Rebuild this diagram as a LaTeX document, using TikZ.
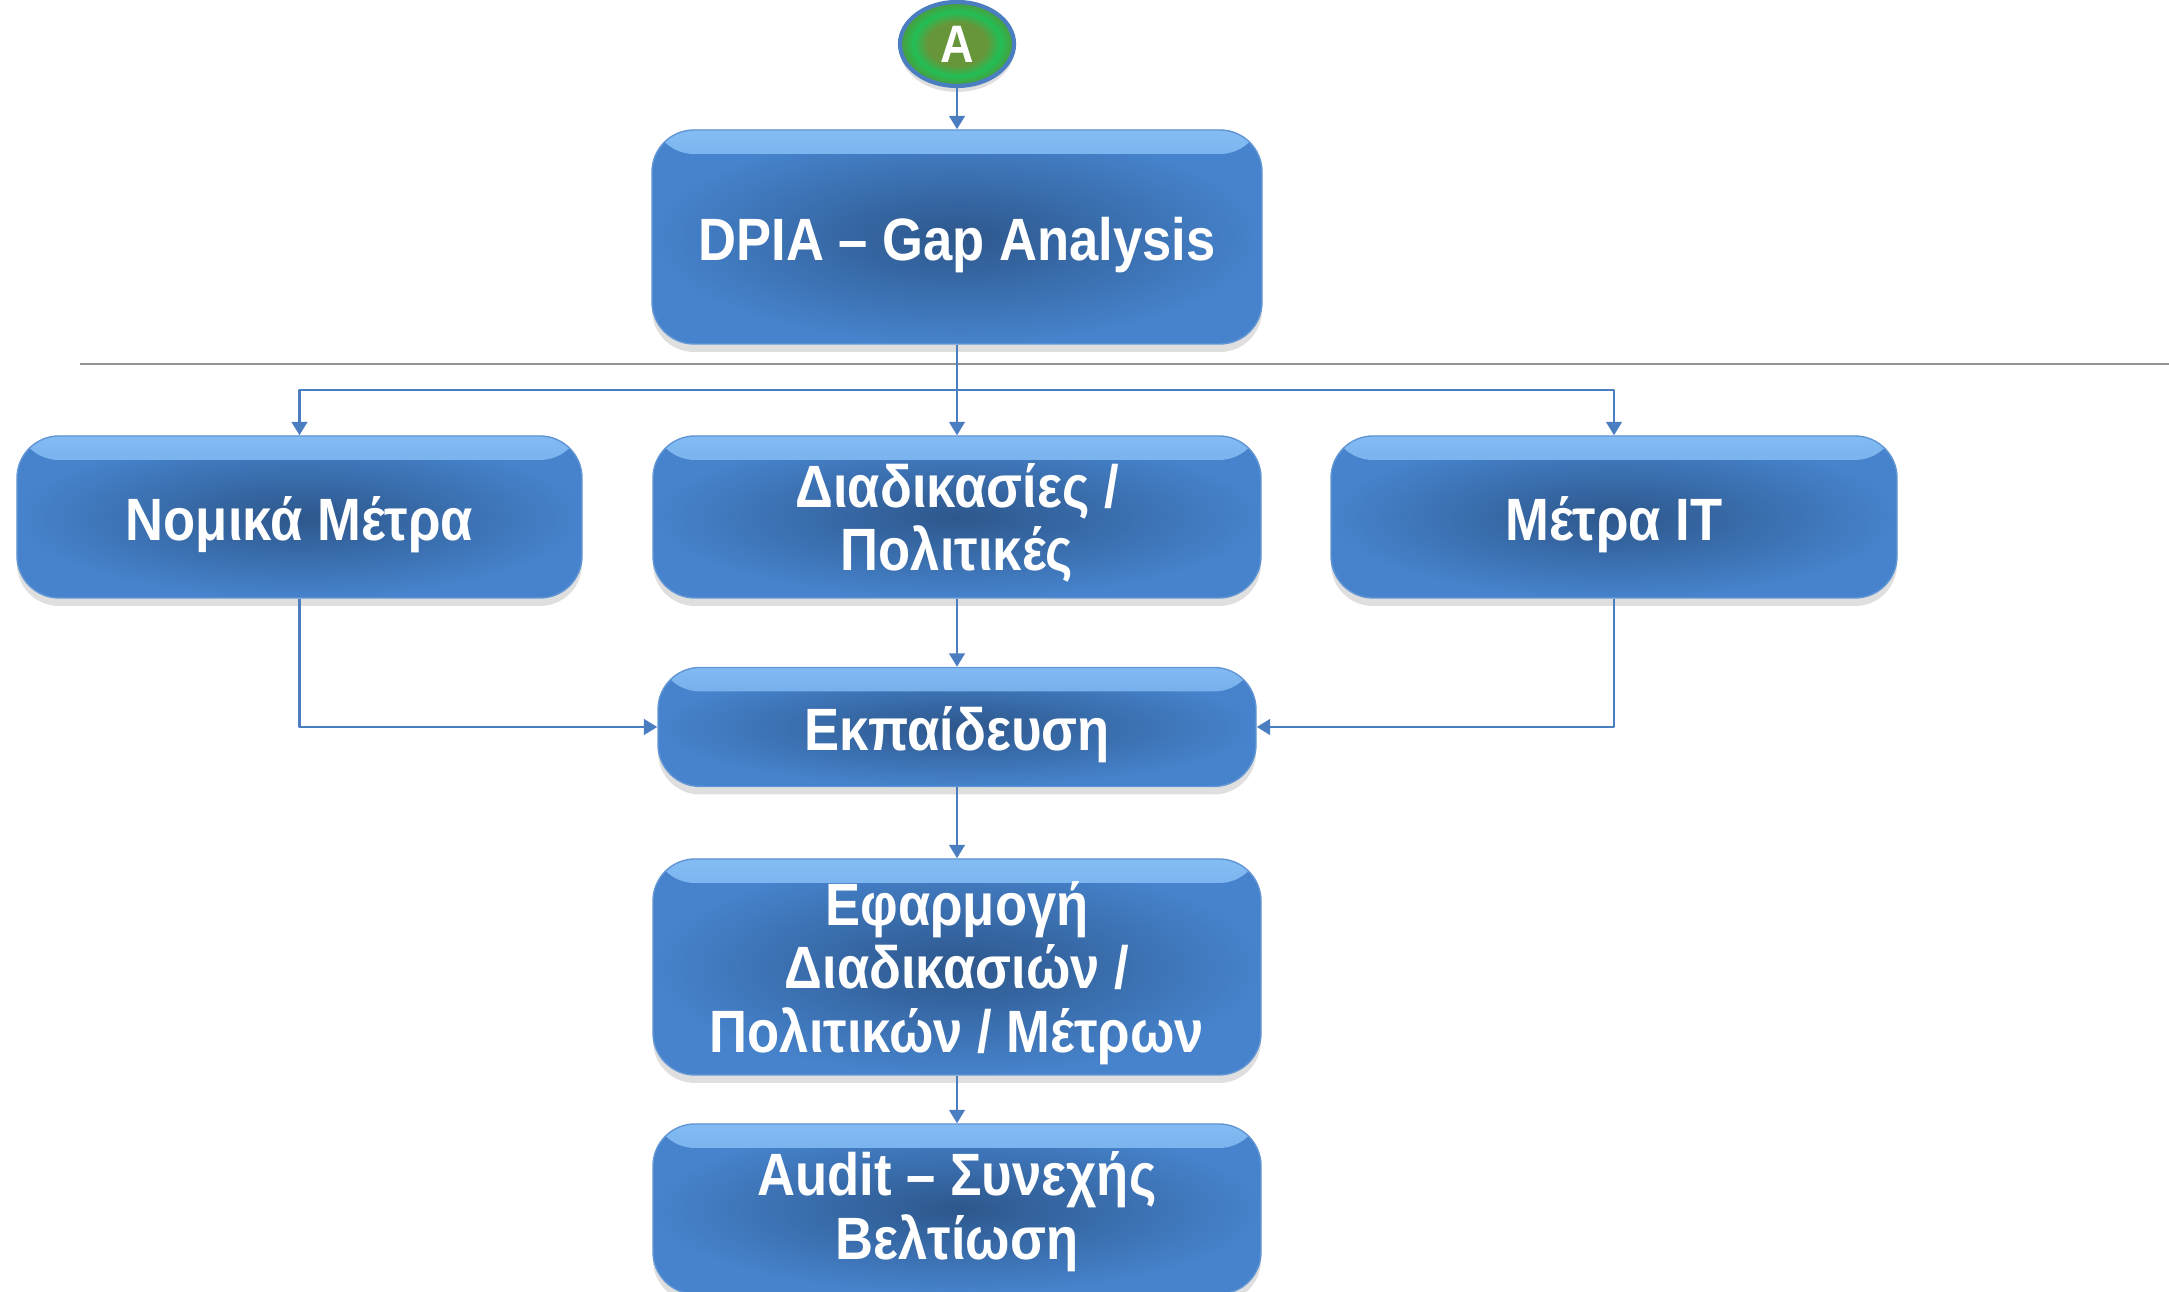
\documentclass[tikz,border=0pt]{standalone}
\usepackage{fontspec}
\setmainfont{Liberation Sans}[FakeStretch=0.88]
\usetikzlibrary{shapes.geometric,shadows,arrows.meta}
\definecolor{boxedge}{HTML}{4683CC}
\definecolor{boxcore}{HTML}{2D578C}
\definecolor{boxtop}{HTML}{86BEF5}
\definecolor{connblue}{HTML}{4A7EC0}
\definecolor{greenolive}{HTML}{67963A}
\definecolor{greenring}{HTML}{22BE55}
\definecolor{greendark}{HTML}{4E9A3C}
\pgfdeclareradialshading{ballA}{\pgfpoint{0bp}{0bp}}{color(0bp)=(greenolive); color(13bp)=(greenolive); color(19bp)=(greenring); color(25bp)=(greendark); color(50bp)=(greendark)}
\begin{document}
\begin{tikzpicture}[font=\bfseries\fontsize{17}{18}\selectfont, line join=round, >={Triangle[length=3.8pt,width=4.4pt]},
	stepbox/.style={rectangle, rounded corners=0.42cm, draw=boxedge!85!white, line width=0.4pt, inner color=boxcore, outer color=boxedge, text=white, align=center, inner sep=0pt,
		path picture={\shade[top color=boxtop, middle color=boxtop!45!boxedge, bottom color=boxedge] ([yshift=0.08cm]path picture bounding box.north west) rectangle ([yshift=-0.24cm]path picture bounding box.north east);},
		drop shadow={opacity=0.25, shadow xshift=0pt, shadow yshift=-0.08cm}},
	conn/.style={->, draw=connblue, line width=0.75pt}]
	\useasboundingbox (0,0) rectangle (21.69,12.91);
	\clip (0,0) rectangle (21.69,12.91);
	\node[ellipse, minimum width=1.14cm, minimum height=0.84cm, inner sep=0pt, draw=connblue, line width=1.2pt, shading=ballA, text=white, font=\bfseries\fontsize{15}{15}\selectfont, drop shadow={opacity=0.25, shadow xshift=0pt, shadow yshift=-0.06cm}] (startA) at (9.57,12.47) {A};
	\node[stepbox, minimum width=6.10cm, minimum height=2.14cm] (dpia) at (9.57,10.54) {\rule{0pt}{17pt}DPIA – Gap Analysis};
	\draw[draw=gray!85, line width=0.6pt] (0.80,9.27) -- (21.69,9.27);
	\node[stepbox, minimum width=5.65cm, minimum height=1.62cm] (nomika) at (2.995,7.74) {\rule{0pt}{17pt}Νομικά Μέτρα};
	\node[stepbox, minimum width=6.08cm, minimum height=1.62cm] (diadikasies) at (9.57,7.74) {\rule{0pt}{16pt}Διαδικασίες /\\Πολιτικές};
	\node[stepbox, minimum width=5.66cm, minimum height=1.62cm] (metrait) at (16.14,7.74) {\rule{0pt}{17pt}Μέτρα IT};
	\node[stepbox, minimum width=5.98cm, minimum height=1.19cm] (ekpaideusi) at (9.57,5.64) {\rule{0pt}{17pt}Εκπαίδευση};
	\node[stepbox, minimum width=6.08cm, minimum height=2.16cm] (efarmogi) at (9.57,3.24) {\rule{0pt}{16pt}Εφαρμογή\\Διαδικασιών /\\Πολιτικών / Μέτρων};
	\node[stepbox, minimum width=6.08cm, minimum height=1.70cm] (audit) at (9.57,0.82) {\rule{0pt}{14pt}Audit – Συνεχής\\Βελτίωση};
	\coordinate (split) at (9.57,9.01);
	\draw[conn] (startA.south) -- (dpia.north);
	\draw[conn] (dpia.south) -- (diadikasies.north);
	\draw[conn] (split) -| (nomika.north);
	\draw[conn] (split) -| (metrait.north);
	\draw[conn] (nomika.south) |- (ekpaideusi.west);
	\draw[conn] (metrait.south) |- (ekpaideusi.east);
	\draw[conn] (diadikasies.south) -- (ekpaideusi.north);
	\draw[conn] (ekpaideusi.south) -- (efarmogi.north);
	\draw[conn] (efarmogi.south) -- (audit.north);
\end{tikzpicture}
\end{document}
